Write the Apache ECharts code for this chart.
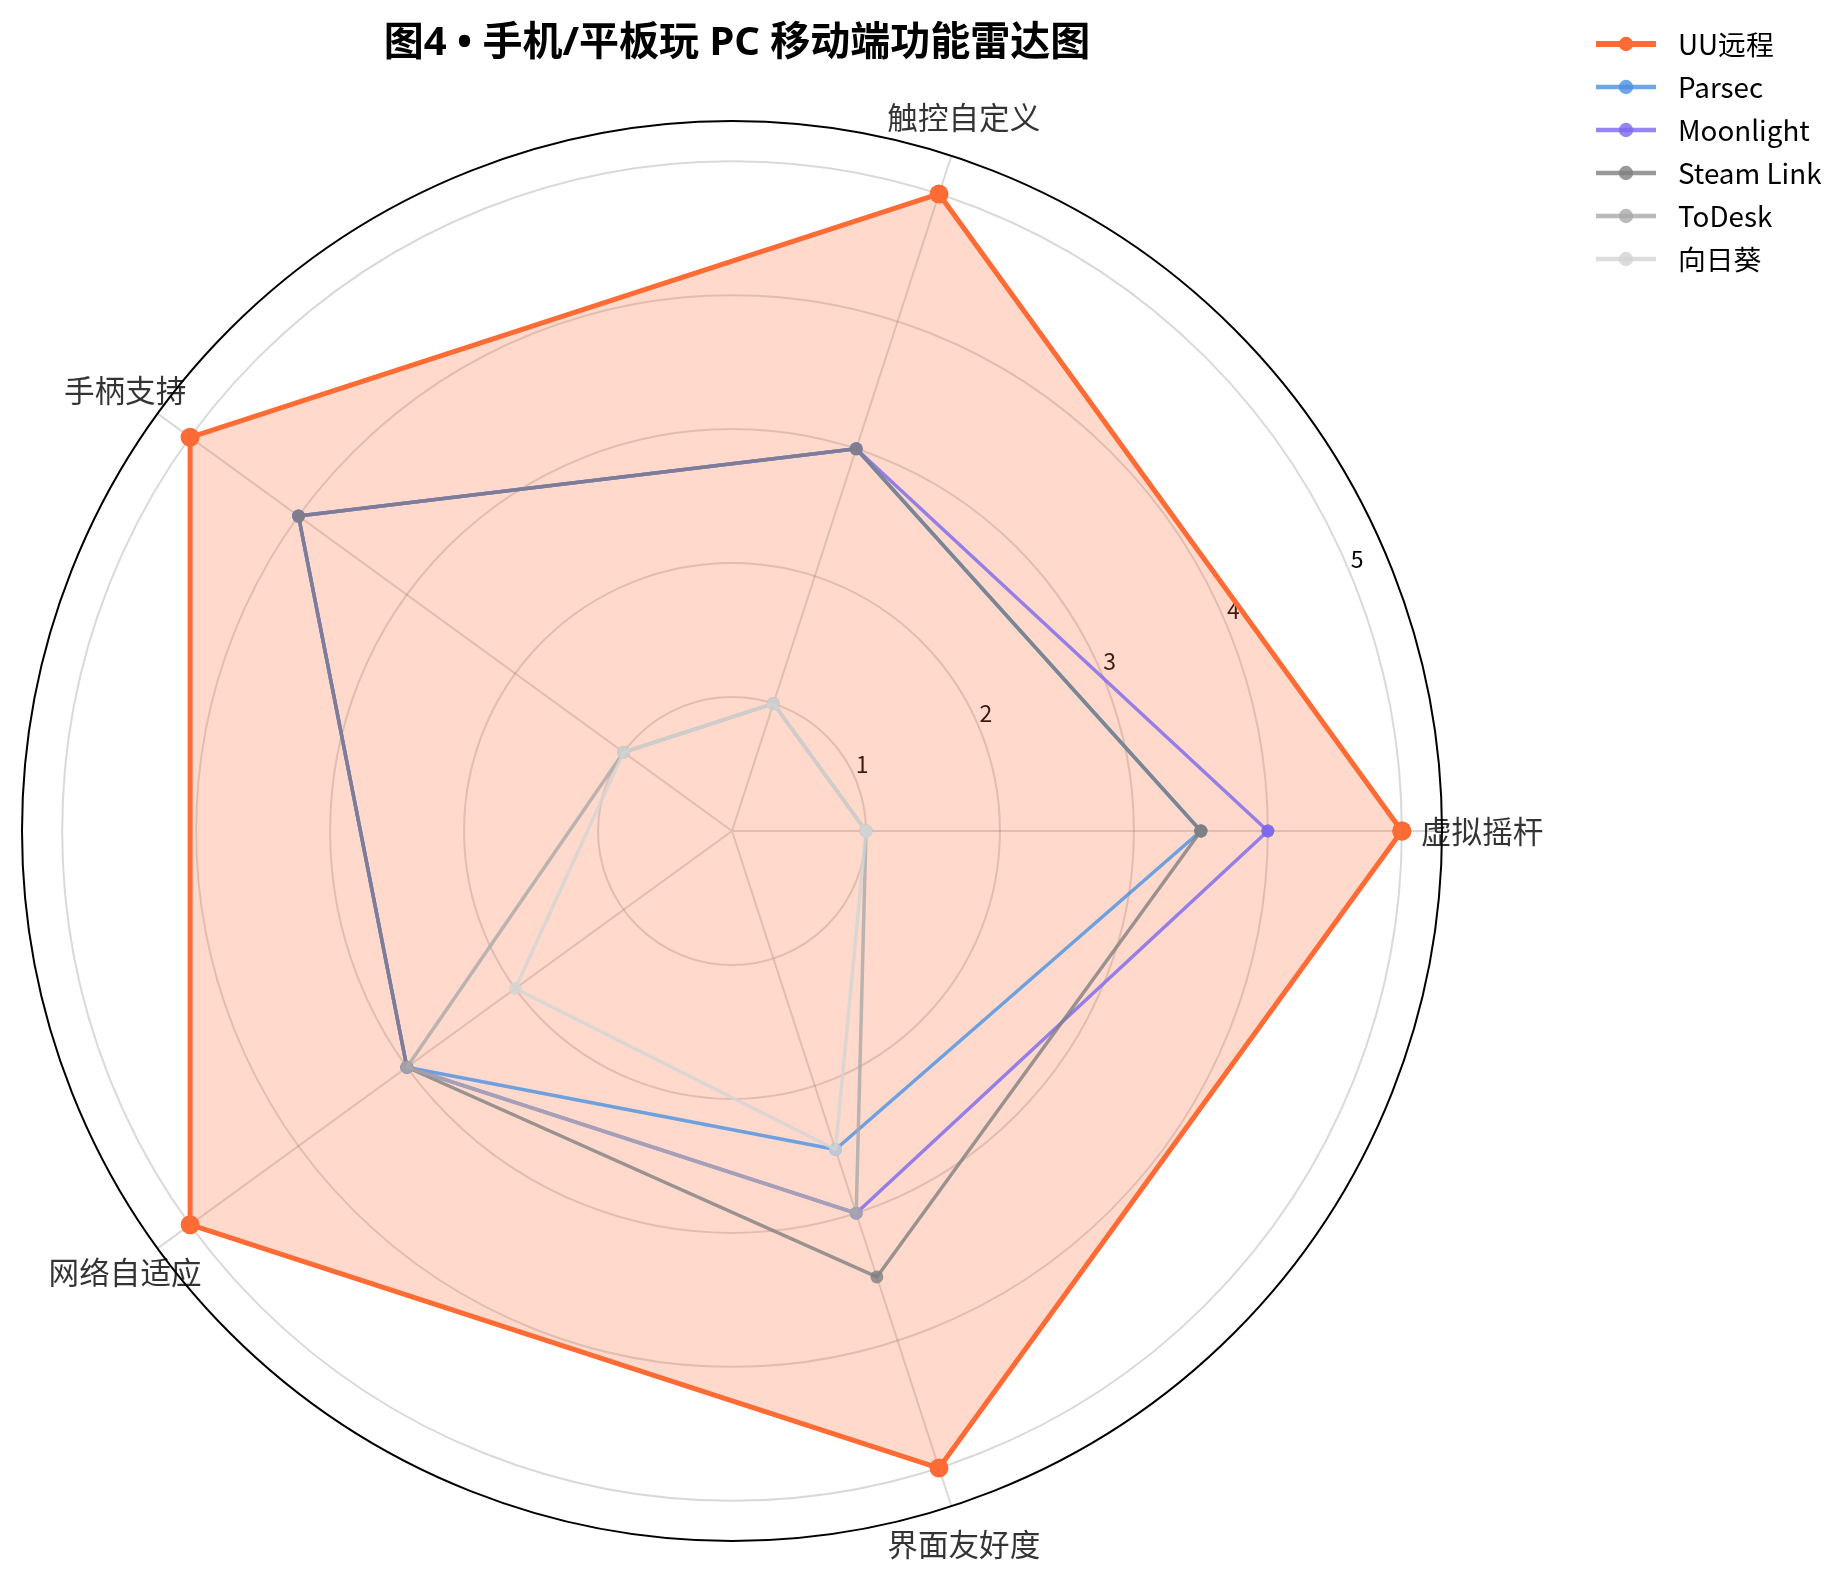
<!DOCTYPE html>
<html>
<head>
<meta charset="utf-8">
<title>图4 • 手机/平板玩 PC 移动端功能雷达图</title>
<script src="https://cdn.jsdelivr.net/npm/echarts@6/dist/echarts.min.js"></script>
<style>
  html, body { margin: 0; padding: 0; background: #ffffff; }
  #chart { width: 1847px; height: 1582px; }
</style>
</head>
<body>
<div id="chart"></div>
<script>
// Feature dimensions and the angle (degrees, counter-clockwise from east) of each spoke
const categories = ['虚拟摇杆', '触控自定义', '手柄支持', '网络自适应', '界面友好度'];
const categoryAngles = [0, 72, 144, 216, 288];

// Scores per product (0–5)
const seriesNames = ['UU远程', 'Parsec', 'Moonlight', 'Steam Link', 'ToDesk', '向日葵'];
const uuValues        = [5, 5, 5, 5, 5];
const parsecValues    = [3.5, 3, 4, 3, 2.5];
const moonlightValues = [4, 3, 4, 3, 3];
const steamLinkValues = [3.5, 3, 4, 3, 3.5];
const toDeskValues    = [1, 1, 1, 3, 3];
const sunloginValues  = [1, 1, 1, 2, 2.5];

// Radial scale
const radiusTicks = [1, 2, 3, 4, 5];
const radiusMax = 5.3;
const categoryLabelRadius = 5.6;

const seriesColors = ['#FF6B35', '#4A90E2', '#7B68EE', '#808080', '#A9A9A9', '#D3D3D3'];
const allValues = [uuValues, parsecValues, moonlightValues, steamLinkValues, toDeskValues, sunloginValues];

const FONT = '"Noto Sans CJK SC", "Noto Sans", sans-serif';
const TITLE_FONT = '"Noto Sans", "Noto Sans CJK SC", sans-serif';
const CENTER = [732, 831];
const RADIUS = 710;

// Close each polygon by repeating its first vertex
function ring(values) {
  const pts = values.map((v, i) => [v, categoryAngles[i]]);
  pts.push(pts[0]);
  return pts;
}

const gridColor = 'rgba(128,128,128,0.3)';
const lineWidthOf = i => (i === 0 ? 5 : 3.5);

const series = allValues.map((values, i) => {
  const main = i === 0;
  const s = {
    type: 'line',
    name: seriesNames[i],
    coordinateSystem: 'polar',
    polarIndex: 0,
    data: ring(values),
    symbol: 'circle',
    symbolSize: main ? 19 : 13,
    lineStyle: { color: seriesColors[i], width: lineWidthOf(i), opacity: main ? 1 : 0.8 },
    itemStyle: { color: seriesColors[i], opacity: main ? 1 : 0.8 },
    z: 2 + i,
    animation: false,
    silent: true
  };
  if (main) s.areaStyle = { color: seriesColors[i], opacity: 0.25 };
  return s;
});

// Spoke names placed just outside the frame circle
series.push({
  type: 'scatter',
  coordinateSystem: 'polar',
  polarIndex: 0,
  data: categories.map((c, i) => ({ name: c, value: [categoryLabelRadius, categoryAngles[i]] })),
  symbolSize: 1,
  itemStyle: { color: 'rgba(0,0,0,0)' },
  label: {
    show: true,
    position: 'inside',
    formatter: '{b}',
    fontSize: 30.6,
    color: '#000',
    fontFamily: FONT
  },
  clip: false,
  silent: true,
  animation: false,
  z: 20
});

const ringColors = radiusTicks.map(() => gridColor);

const option = {
  backgroundColor: '#ffffff',
  animation: false,
  title: {
    text: '图4 • 手机/平板玩 PC 移动端功能雷达图',
    left: CENTER[0],
    top: 19,
    textAlign: 'center',
    textStyle: { fontSize: 40, fontWeight: 'bold', color: '#000', fontFamily: TITLE_FONT }
  },
  legend: {
    data: seriesNames.map((n, i) => ({
      name: n,
      lineStyle: { width: lineWidthOf(i) + 1 }
    })),
    orient: 'vertical',
    left: 1593,
    top: 29,
    padding: 0,
    itemWidth: 60,
    itemHeight: 18,
    itemGap: 13,
    textStyle: { fontSize: 27.8, lineHeight: 30, color: '#000', fontFamily: FONT, padding: [0, 0, 0, 17] }
  },
  polar: [
    { center: CENTER, radius: RADIUS },
    { center: CENTER, radius: RADIUS }
  ],
  angleAxis: [
    {
      polarIndex: 0,
      type: 'value',
      min: 0, max: 360, interval: 72,
      startAngle: 0,
      clockwise: false,
      axisLine: { show: true, lineStyle: { color: '#000', width: 2 } },
      axisTick: { show: false },
      axisLabel: { show: false },
      splitLine: { show: true, lineStyle: { color: gridColor, width: 2 } }
    },
    {
      polarIndex: 1,
      type: 'value',
      min: 0, max: 360,
      startAngle: 22.5,
      clockwise: false,
      axisLine: { show: false },
      axisTick: { show: false },
      axisLabel: { show: false },
      splitLine: { show: false }
    }
  ],
  radiusAxis: [
    {
      polarIndex: 0,
      type: 'value',
      min: 0, max: radiusMax,
      axisLine: { show: false },
      axisTick: { show: false },
      axisLabel: { show: false },
      splitLine: { show: false }
    },
    {
      polarIndex: 1,
      type: 'value',
      min: 0, max: radiusMax, interval: 1,
      axisLine: { show: false },
      axisTick: { show: false },
      axisLabel: {
        show: true,
        formatter: v => (radiusTicks.indexOf(v) >= 0 ? String(v) : ''),
        fontSize: 23,
        color: '#000',
        fontFamily: FONT,
        align: 'left',
        verticalAlign: 'bottom',
        margin: 0,
        padding: [0, 0, 4, 0]
      },
      splitLine: {
        show: true,
        lineStyle: { color: ['rgba(0,0,0,0)'].concat(ringColors, ['rgba(0,0,0,0)']), width: 2 }
      }
    }
  ],
  series: series
};

const chart = echarts.init(document.getElementById('chart'), null, { renderer: 'canvas' });
chart.setOption(option);
</script>
</body>
</html>
